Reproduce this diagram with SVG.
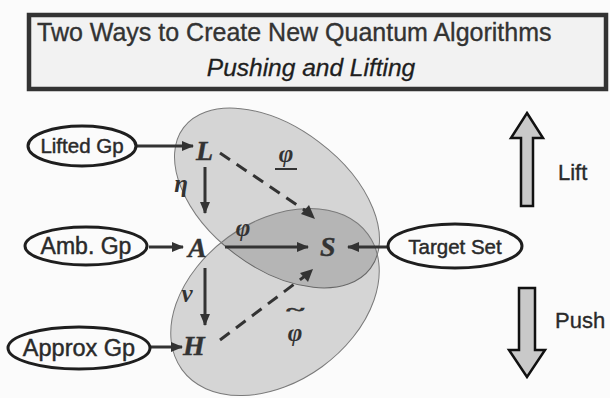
<svg xmlns="http://www.w3.org/2000/svg" width="610" height="398" viewBox="0 0 610 398">
  <style>
    .oval { fill: #fbfbfb; stroke: #1e1e1e; stroke-width: 3; }
    .olab { font-family: "Liberation Sans", Arial, sans-serif; fill: #2a2a2a; stroke: #2a2a2a; stroke-width: 0.45; text-anchor: middle; }
    .var { font-family: "Liberation Serif", "Times New Roman", serif; font-weight: bold; font-style: italic; fill: #333; stroke: #333; stroke-width: 0.4; }
    .greek { font-family: "Liberation Serif", "Times New Roman", serif; font-weight: bold; font-style: italic; fill: #333; text-anchor: middle; }
    .arr { stroke: #333; stroke-width: 3; fill: none; marker-end: url(#head); }
    .dash { stroke: #333; stroke-width: 3; fill: none; stroke-dasharray: 12 8; }
    .region { fill: #000; fill-opacity: 0.15; stroke: #7a7a7a; stroke-width: 1; }
    .block { fill: #c9c9c9; stroke: #111; stroke-width: 2.5; stroke-linejoin: miter; }
    .side { font-family: "Liberation Sans", Arial, sans-serif; font-size: 22px; fill: #2a2a2a; stroke: #2a2a2a; stroke-width: 0.35; }
  </style>
  <defs>
    <marker id="head" viewBox="0 0 12 10" refX="11" refY="5" markerWidth="4" markerHeight="3.4" orient="auto" markerUnits="strokeWidth">
      <path d="M0,0 L12,5 L0,10 z" fill="#333"/>
    </marker>
  </defs>

  <rect width="610" height="398" fill="#fbfbfb"/>

  <!-- title panel -->
  <g id="title">
    <rect x="29" y="15" width="577" height="74" fill="#f2f2f2" stroke="#333" stroke-width="4.5"/>
    <text x="37" y="41" font-family="'Liberation Sans', Arial, sans-serif" font-size="25" fill="#333" stroke="#333" stroke-width="0.35">Two Ways to Create New Quantum Algorithms</text>
    <text x="311" y="76" font-family="'Liberation Sans', Arial, sans-serif" font-size="24.5" font-style="italic" fill="#1e1e1e" stroke="#1e1e1e" stroke-width="0.3" text-anchor="middle">Pushing and Lifting</text>
  </g>

  <!-- shaded regions: lifted side and approximate side, overlap darker -->
  <g id="regions">
    <ellipse class="region" cx="277" cy="198" rx="117" ry="70" transform="rotate(37 277 198)"/>
    <ellipse class="region" cx="275" cy="302" rx="115" ry="80" transform="rotate(-36 275 302)"/>
  </g>

  <!-- connectors -->
  <g id="connectors">
    <line class="arr" x1="135" y1="146" x2="193" y2="146"/>
    <line class="arr" x1="149" y1="247" x2="183" y2="247"/>
    <line class="arr" x1="151" y1="347" x2="182" y2="347"/>
    <line class="arr" x1="388" y1="247" x2="348" y2="247"/>
    <line class="arr" x1="225" y1="247" x2="308" y2="247"/>
    <line class="arr" x1="205" y1="167" x2="205" y2="213"/>
    <line class="arr" x1="205" y1="268" x2="205" y2="325"/>
    <line class="dash" x1="220" y1="153" x2="306" y2="211"/>
    <path d="M315,219 L301,214 L309,205 z" fill="#333"/>
    <line class="dash" x1="220" y1="340" x2="305" y2="276"/>
    <path d="M313,269 L308,282 L300,273 z" fill="#333"/>
  </g>

  <!-- map labels -->
  <g id="labels">
    <text class="greek" x="181" y="192" font-size="25">η</text>
    <text class="greek" x="187" y="302" font-size="25">ν</text>
    <text class="greek" x="243" y="236" font-size="25">φ</text>
    <text class="greek" x="286" y="162" font-size="25">φ</text>
    <line x1="275" y1="169" x2="297" y2="169" stroke="#333" stroke-width="2"/>
    <!-- phi with a widened tilde set above it -->
    <text class="greek" font-size="14" stroke="#333" stroke-width="0.6" transform="translate(295 315) scale(2.4 1)">~</text>
    <text class="greek" x="295" y="341" font-size="25">φ</text>
  </g>

  <!-- group nodes -->
  <g id="node-L"><text class="var" x="196" y="160" font-size="28">L</text></g>
  <g id="node-A"><text class="var" x="188" y="257" font-size="28">A</text></g>
  <g id="node-S"><text class="var" x="320" y="256" font-size="28">S</text></g>
  <g id="node-H"><text class="var" x="183" y="355" font-size="28">H</text></g>

  <g id="lifted-gp">
    <ellipse class="oval" cx="82" cy="146" rx="54" ry="20"/>
    <text class="olab" x="82" y="153" font-size="20.5">Lifted Gp</text>
  </g>
  <g id="amb-gp">
    <ellipse class="oval" cx="86" cy="246" rx="61" ry="19"/>
    <text class="olab" x="86" y="254" font-size="23">Amb. Gp</text>
  </g>
  <g id="approx-gp">
    <ellipse class="oval" cx="79" cy="348" rx="71" ry="21"/>
    <text class="olab" x="79" y="356" font-size="23.5">Approx Gp</text>
  </g>
  <g id="target-set">
    <ellipse class="oval" cx="455" cy="246" rx="67" ry="22"/>
    <text class="olab" x="455" y="254" font-size="20.5">Target Set</text>
  </g>

  <!-- direction arrows -->
  <g id="lift">
    <path class="block" d="M527,113 L543,138 L533,138 L533,206 L521,206 L521,138 L511,138 z"/>
    <text class="side" x="558" y="180">Lift</text>
  </g>
  <g id="push">
    <path class="block" d="M519,288 L535,288 L535,350 L545,350 L527,377 L509,350 L519,350 z"/>
    <text class="side" x="555" y="328">Push</text>
  </g>
</svg>
